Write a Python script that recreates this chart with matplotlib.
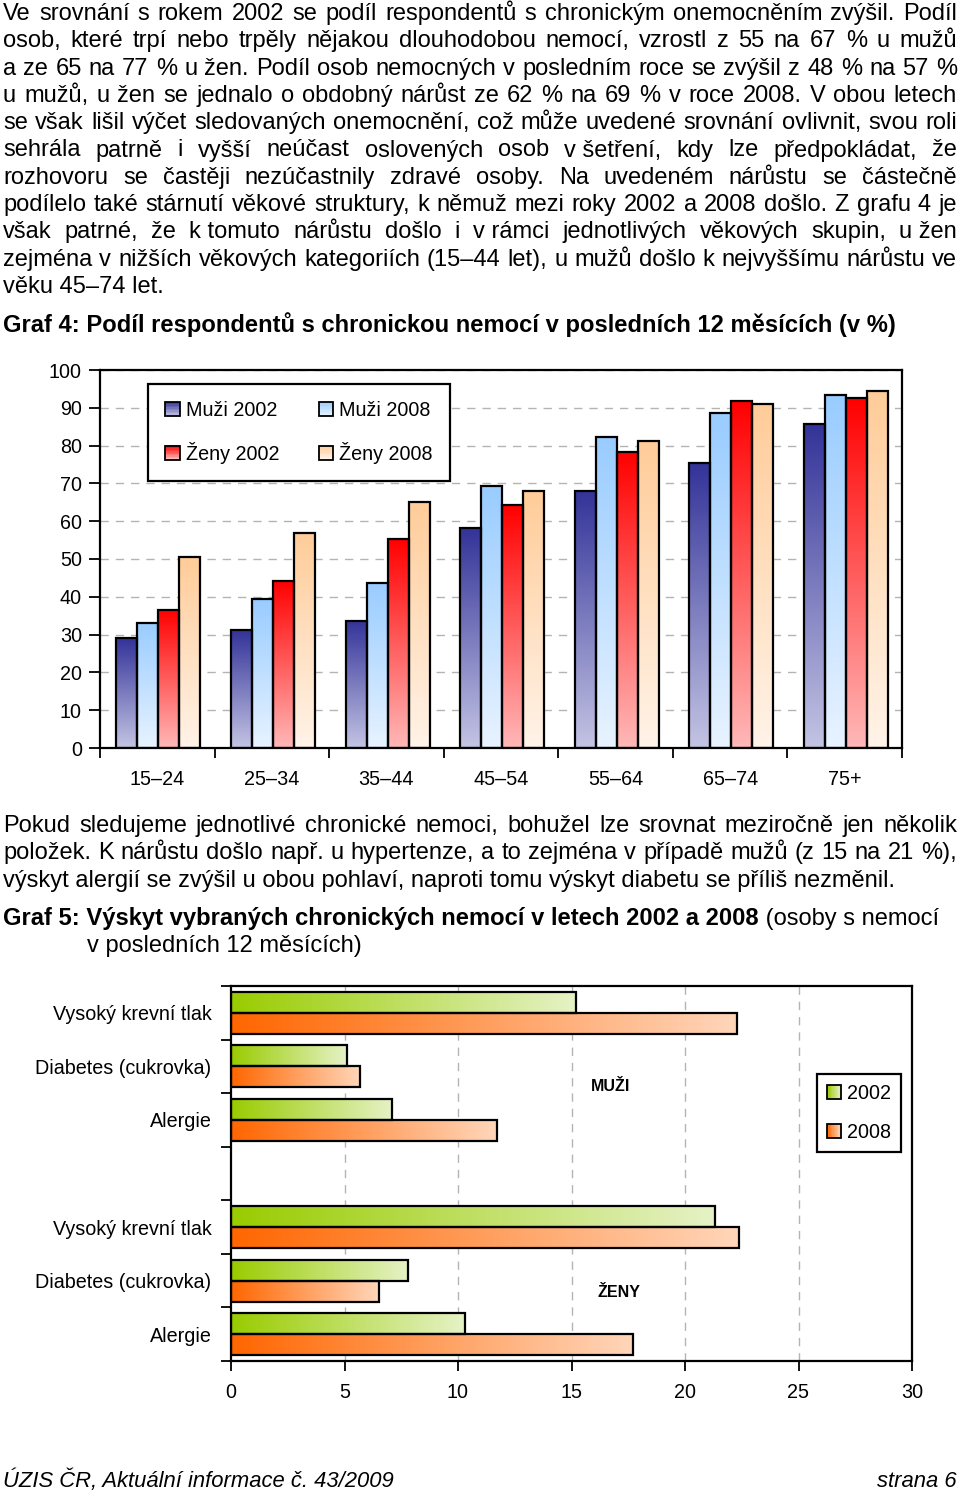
import numpy as np
import matplotlib
matplotlib.use("Agg")
import matplotlib.pyplot as plt
from matplotlib.colors import to_rgb
from matplotlib.patches import Patch, Rectangle
from matplotlib.legend_handler import HandlerBase

plt.rcParams['font.family'] = ['Liberation Sans', 'DejaVu Sans']

# --- data: graf 4 ---
vekove_skupiny = ['15–24', '25–34', '35–44', '45–54', '55–64', '65–74', '75+']
muzi_2002 = [29.0, 31.2, 33.7, 58.1, 67.9, 75.3, 85.7]
muzi_2008 = [33.1, 39.4, 43.6, 69.3, 82.4, 88.6, 93.5]
zeny_2002 = [36.6, 44.2, 55.3, 64.2, 78.4, 91.7, 92.5]
zeny_2008 = [50.4, 57.0, 65.1, 68.1, 81.1, 90.9, 94.5]
serie4 = ['Muži 2002', 'Muži 2008', 'Ženy 2002', 'Ženy 2008']

# --- data: graf 5 ---
nemoci = ['Vysoký krevní tlak', 'Diabetes (cukrovka)', 'Alergie']
muzi5_2002 = [15.2, 5.1, 7.1]
muzi5_2008 = [22.3, 5.7, 11.7]
zeny5_2002 = [21.3, 7.8, 10.3]
zeny5_2008 = [22.4, 6.5, 17.7]

# --- text ---
odstavec1 = [
    "Ve srovnání s rokem 2002 se podíl respondentů s chronickým onemocněním zvýšil. Podíl",
    "osob, které trpí nebo trpěly nějakou dlouhodobou nemocí, vzrostl z 55 na 67 % u mužů",
    "a ze 65 na 77 % u žen. Podíl osob nemocných v posledním roce se zvýšil z 48 % na 57 %",
    "u mužů, u žen se jednalo o obdobný nárůst ze 62 % na 69 % v roce 2008. V obou letech",
    "se však lišil výčet sledovaných onemocnění, což může uvedené srovnání ovlivnit, svou roli",
    "sehrála patrně i vyšší neúčast oslovených osob v\u00a0šetření, kdy lze předpokládat, že",
    "rozhovoru se častěji nezúčastnily zdravé osoby. Na uvedeném nárůstu se částečně",
    "podílelo také stárnutí věkové struktury, k němuž mezi roky 2002 a 2008 došlo. Z grafu 4 je",
    "však patrné, že k\u00a0tomuto nárůstu došlo i v\u00a0rámci jednotlivých věkových skupin, u\u00a0žen",
    "zejména v nižších věkových kategoriích (15–44 let), u mužů došlo k nejvyššímu nárůstu ve",
    "věku 45–74 let.",
]
odstavec2 = [
    "Pokud sledujeme jednotlivé chronické nemoci, bohužel lze srovnat meziročně jen několik",
    "položek. K nárůstu došlo např. u hypertenze, a to zejména v případě mužů (z 15 na 21 %),",
    "výskyt alergií se zvýšil u obou pohlaví, naproti tomu výskyt diabetu se příliš nezměnil.",
]

W, H = 960, 1493
fig = plt.figure(figsize=(W / 100, H / 100), dpi=100)
renderer = fig.canvas.get_renderer()
fs_graf = 14.2


def fx(x):
    return x / W


def fy(y):
    return 1 - y / H


def text_width(s, size, **kw):
    t = fig.text(0, 0, s, fontsize=size, **kw)
    w = t.get_window_extent(renderer).width
    t.remove()
    return w


def fit_size(s, px, **kw):
    return 10 * px / text_width(s, 10, **kw)


fs_body = fit_size(odstavec2[2], 894)
fs_bold = fit_size("Graf 4: Podíl respondentů s chronickou nemocí v posledních 12 měsících (v %)",
                   894, fontweight='bold')


def radek(s, y, justify=True, x0=3, x1=957, **kw):
    words = s.split(' ')
    if not justify or len(words) == 1:
        fig.text(fx(x0), fy(y), s, fontsize=fs_body, va='baseline', **kw)
        return
    texts = [fig.text(0, fy(y), w, fontsize=fs_body, va='baseline', **kw) for w in words]
    widths = [t.get_window_extent(renderer).width for t in texts]
    gap = (x1 - x0 - sum(widths)) / (len(words) - 1)
    x = x0
    for t, w in zip(texts, widths):
        t.set_x(fx(x))
        x += w + gap


for i, s in enumerate(odstavec1):
    radek(s, 20 + i * 27.3, justify=(i < len(odstavec1) - 1))
for i, s in enumerate(odstavec2):
    radek(s, 832 + i * 27.3, justify=(i < 2))

fig.text(fx(3), fy(332), "Graf 4: Podíl respondentů s chronickou nemocí v posledních 12 měsících (v %)",
         fontsize=fs_bold, fontweight='bold', va='baseline')
t5 = fig.text(fx(3), fy(925), "Graf 5: Výskyt vybraných chronických nemocí v letech 2002 a 2008",
              fontsize=fs_bold, fontweight='bold', va='baseline')
w5 = t5.get_window_extent(renderer).width
fig.text(fx(3 + w5), fy(925), " (osoby s nemocí", fontsize=fs_body, va='baseline')
fig.text(fx(87), fy(952), "v posledních 12 měsících)", fontsize=fs_body, va='baseline')

fig.text(fx(3), fy(1487), "ÚZIS ČR, Aktuální informace č. 43/2009", fontsize=fs_body * 0.93,
         style='italic', va='baseline')
fig.text(fx(957), fy(1487), "strana 6", fontsize=fs_body * 0.93, style='italic',
         va='baseline', ha='right')


def gradient(c0, c1, n=256):
    a = np.array(to_rgb(c0))
    b = np.array(to_rgb(c1))
    t = np.linspace(0, 1, n)[:, None]
    return a + (b - a) * t


class GradHandler(HandlerBase):
    def __init__(self, c_dark, c_light, vertical):
        super().__init__()
        self.c_dark, self.c_light, self.vertical = c_dark, c_light, vertical

    def create_artists(self, legend, orig_handle, xdescent, ydescent, width, height, fontsize, trans):
        s = min(width, height)
        x0 = -xdescent + (width - s) / 2
        y0 = -ydescent + (height - s) / 2
        n = 10
        cols = gradient(self.c_dark, self.c_light, n)
        arts = []
        for k in range(n):
            if self.vertical:
                r = Rectangle((x0, y0 + s - (k + 1) * s / n), s, s / n + 0.3, facecolor=cols[k],
                              edgecolor='none', transform=trans)
            else:
                r = Rectangle((x0 + k * s / n, y0), s / n + 0.3, s, facecolor=cols[k],
                              edgecolor='none', transform=trans)
            arts.append(r)
        arts.append(Rectangle((x0, y0), s, s, facecolor='none', edgecolor='black', lw=1.3,
                              transform=trans))
        return arts


# ---------------- Graf 4 ----------------
barvy4 = [('#333399', '#C4C4E4'), ('#99CCFF', '#E8F3FF'),
          ('#FF0000', '#FFB8B8'), ('#FFCC99', '#FFF3E8')]
ax1 = fig.add_axes([fx(100), fy(748), (902 - 100) / W, (748 - 370) / H])
x = np.arange(len(vekove_skupiny))
w = 0.183
for k, vals in enumerate([muzi_2002, muzi_2008, zeny_2002, zeny_2008]):
    pos = x + (k - 1.5) * w + 0.01
    dark, light = barvy4[k]
    img = gradient(light, dark)[:, None, :]
    for p, v in zip(pos, vals):
        ax1.imshow(img, extent=[p - w / 2, p + w / 2, 0, v], origin='lower',
                   aspect='auto', interpolation='bilinear', zorder=2)
    ax1.bar(pos, vals, width=w, facecolor='none', edgecolor='black', lw=1.6, zorder=3)

ax1.set_xlim(-0.5, len(vekove_skupiny) - 0.5)
ax1.set_ylim(0, 100)
ax1.set_yticks(np.arange(0, 101, 10))
ax1.tick_params(axis='y', length=8, width=1.3, pad=5, labelsize=fs_graf)
ax1.set_xticks(np.arange(-0.5, len(vekove_skupiny), 1))
ax1.set_xticklabels([])
ax1.set_xticks(x, minor=True)
ax1.set_xticklabels(vekove_skupiny, minor=True)
ax1.tick_params(axis='x', which='major', length=7, width=1.3, direction='out')
ax1.tick_params(axis='x', which='minor', length=0, pad=16, labelsize=fs_graf)
ax1.grid(axis='y', color='#B4B4B4', linestyle=(0, (6, 5)), lw=1, zorder=1)
ax1.set_axisbelow(True)
for sp in ax1.spines.values():
    sp.set_linewidth(1.6)

h4 = [Patch(label=l) for l in serie4]
hmap4 = {h: GradHandler(barvy4[k][0], barvy4[k][1], True) for k, h in enumerate(h4)}
order = [0, 2, 1, 3]
leg1 = ax1.legend([h4[i] for i in order], [serie4[i] for i in order], handler_map=hmap4,
                  ncol=2, loc='upper left', bbox_to_anchor=(0.06, 0.962), fontsize=fs_graf,
                  frameon=True, fancybox=False, edgecolor='black', framealpha=1,
                  handlelength=0.75, handleheight=0.75, handletextpad=0.3,
                  columnspacing=2.0, labelspacing=1.1, borderpad=0.85, borderaxespad=0)
leg1.get_frame().set_linewidth(1.6)

# ---------------- Graf 5 ----------------
barvy5 = [('#99CC00', '#E6F2C6'), ('#FF6600', '#FFD6BA')]
ax2 = fig.add_axes([fx(231), fy(1361), (912 - 231) / W, (1361 - 986) / H])
popisky = nemoci + [''] + nemoci
y2 = np.arange(len(popisky))
v2002 = muzi5_2002 + [0] + zeny5_2002
v2008 = muzi5_2008 + [0] + zeny5_2008
hb = 0.39
pos_mask = [i for i in range(len(popisky)) if popisky[i]]
for k, (vals, off) in enumerate([(v2002, -hb / 2), (v2008, hb / 2)]):
    dark, light = barvy5[k]
    img = gradient(dark, light)[None, :, :]
    yy = [y2[i] + off for i in pos_mask]
    vv = [vals[i] for i in pos_mask]
    for p, v in zip(yy, vv):
        ax2.imshow(img, extent=[0, v, p + hb / 2, p - hb / 2], aspect='auto',
                   interpolation='bilinear', zorder=2)
    ax2.barh(yy, vv, height=hb, facecolor='none', edgecolor='black', lw=1.6, zorder=3)

ax2.set_xlim(0, 30)
ax2.set_ylim(len(popisky) - 0.5, -0.5)
ax2.set_xticks(np.arange(0, 31, 5))
ax2.tick_params(axis='x', length=7, width=1.3, pad=9, labelsize=fs_graf)
ax2.set_yticks(y2)
ax2.set_yticklabels(popisky)
ax2.set_yticks(np.arange(-0.5, len(popisky), 1), minor=True)
ax2.tick_params(axis='y', which='major', length=0, pad=14, labelsize=fs_graf)
ax2.tick_params(axis='y', which='minor', length=7, width=1.3)
for xv in range(5, 30, 5):
    ax2.axvline(xv, color='#B4B4B4', linestyle=(0, (6, 5)), lw=1, zorder=1)
for sp in ax2.spines.values():
    sp.set_linewidth(1.6)

ax2.text(16.7, 1.37, 'MUŽI', fontsize=11.5, fontweight='bold', ha='center', va='center')
ax2.text(17.1, 5.23, 'ŽENY', fontsize=11.5, fontweight='bold', ha='center', va='center')

h5 = [Patch(label='2002'), Patch(label='2008')]
hmap5 = {h: GradHandler(barvy5[k][0], barvy5[k][1], False) for k, h in enumerate(h5)}
leg2 = ax2.legend(h5, ['2002', '2008'], handler_map=hmap5, loc='upper left',
                  bbox_to_anchor=(0.86, 0.765), fontsize=fs_graf, frameon=True, fancybox=False,
                  edgecolor='black', framealpha=1, handlelength=0.75, handleheight=0.75,
                  handletextpad=0.3, labelspacing=1.0, borderpad=0.5, borderaxespad=0)
leg2.get_frame().set_linewidth(1.6)

fig.savefig('out.png', dpi=100)
